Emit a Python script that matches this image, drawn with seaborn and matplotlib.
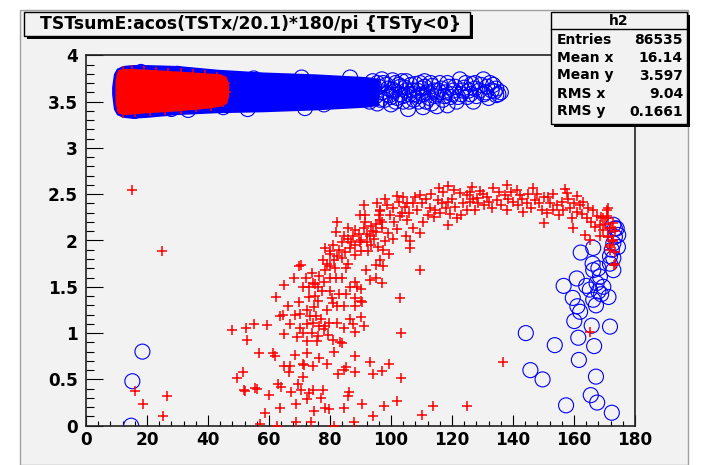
import matplotlib
matplotlib.use("Agg")
import matplotlib.pyplot as plt
from matplotlib.patches import Rectangle
from matplotlib.lines import Line2D
from matplotlib.ticker import MultipleLocator
import seaborn as sns

W, H = 702, 465

title = "TSTsumE:acos(TSTx/20.1)*180/pi {TSTy<0}"
stats_name = "h2"
stats_labels = ["Entries", "Mean x", "Mean y", "RMS x", "RMS y"]
stats_values = ["86535", "16.14", "3.597", "9.04", "0.1661"]

x_ticks = [0, 20, 40, 60, 80, 100, 120, 140, 160, 180]
x_tick_labels = ["0", "20", "40", "60", "80", "100", "120", "140", "160", "180"]
y_ticks = [0, 0.5, 1, 1.5, 2, 2.5, 3, 3.5, 4]
y_tick_labels = ["0", "0.5", "1", "1.5", "2", "2.5", "3", "3.5", "4"]

# saturated part of the blue band (outer envelope)
band_blue_x = [8.4, 9, 10, 12, 15, 20, 30, 43, 58, 75, 92, 96]
band_blue_lo = [3.58, 3.42, 3.36, 3.33, 3.32, 3.33, 3.36, 3.38, 3.39, 3.41, 3.44, 3.46]
band_blue_hi = [3.66, 3.80, 3.86, 3.89, 3.90, 3.90, 3.89, 3.85, 3.82, 3.80, 3.77, 3.75]

# saturated part of the red band
band_red_x = [9.5, 10, 11, 13, 20, 30, 40, 44, 46, 46.8]
band_red_lo = [3.50, 3.40, 3.37, 3.36, 3.38, 3.40, 3.43, 3.45, 3.48, 3.56]
band_red_hi = [3.72, 3.82, 3.85, 3.86, 3.85, 3.83, 3.81, 3.80, 3.77, 3.68]

# individual blue circles (band edge + sparse tail + low region)
blue_points = [
    (16, 3.40), (28, 3.42), (33.5, 3.41), (45, 3.44), (53, 3.42), (71.8, 3.43), (78, 3.47),
    (18, 3.82), (30, 3.80), (55, 3.75), (70.7, 3.76), (86.6, 3.76),
    (93, 3.50), (93.5, 3.62), (94, 3.72), (95, 3.56), (95.5, 3.48), (96, 3.66), (97, 3.60),
    (97.5, 3.70), (98, 3.52), (99, 3.64), (99.5, 3.57), (100, 3.47), (100.5, 3.73), (101, 3.61),
    (102, 3.54), (102.5, 3.68), (103, 3.58), (104, 3.50), (104.5, 3.65), (105, 3.72), (105.6, 3.42),
    (106, 3.58), (107, 3.62), (107.5, 3.52), (108, 3.69), (109, 3.56), (110, 3.64), (111, 3.72),
    (111.5, 3.50), (112, 3.60), (113.3, 3.48), (113.5, 3.67), (114.5, 3.56), (115.5, 3.62),
    (116, 3.70), (117, 3.52), (118, 3.60), (119, 3.66), (119.5, 3.55), (120.5, 3.62), (121.5, 3.50),
    (122.6, 3.74), (123, 3.58), (124, 3.65), (125, 3.55), (125.5, 3.62), (126.5, 3.69), (127.6, 3.70),
    (128, 3.56), (129, 3.62), (130.3, 3.74), (130.5, 3.58), (131.5, 3.66), (132, 3.54), (133, 3.62),
    (134, 3.61), (134.5, 3.57), (135.2, 3.58), (133.5, 3.68), (127, 3.50), (118.5, 3.46),
    (110.5, 3.44), (115, 3.45),
    (93.5, 3.55), (94.5, 3.66), (95.5, 3.70), (96.5, 3.52), (97, 3.74), (98.5, 3.58), (98.5, 3.68),
    (100, 3.55), (100.5, 3.63), (101.5, 3.70), (101.5, 3.50), (103, 3.66), (103.5, 3.72),
    (104, 3.56), (105, 3.62), (106, 3.50), (106.5, 3.68), (107.5, 3.58), (108.5, 3.62),
    (109, 3.50), (109.5, 3.70), (110.5, 3.58), (111, 3.66), (112.5, 3.54), (113, 3.70),
    (114, 3.62), (115, 3.58), (116.5, 3.64), (117.5, 3.56), (118.5, 3.70), (120, 3.58),
    (121, 3.66), (122, 3.55), (123.5, 3.62), (124.5, 3.70), (126, 3.58), (127.5, 3.64),
    (129.5, 3.68), (131, 3.60), (132.5, 3.70), (134.5, 3.64), (136, 3.60),
    (18.5, 0.80), (15.2, 0.48), (14.8, 0.0),
    (144.2, 1.00), (145.7, 0.60), (149.7, 0.50), (153.7, 0.87), (156.6, 1.51), (157.4, 0.22),
    (160.1, 1.13), (161.4, 0.95), (161.6, 0.71), (159.6, 1.38), (160.9, 1.59), (162.0, 1.23),
    (162.2, 1.87), (166.3, 1.92), (165.8, 1.08), (166.6, 0.86), (167.2, 0.53), (165.5, 0.33),
    (167.6, 0.25), (172.4, 0.14), (171.8, 1.07), (164.0, 1.51), (166.1, 1.75), (168.0, 1.70),
    (166.3, 1.68), (167.4, 1.54), (166.3, 1.36), (168.0, 1.45), (169.6, 1.50), (171.3, 1.39),
    (168.9, 1.42), (165.2, 1.47), (168.5, 1.61), (167.2, 1.30), (172.9, 1.68), (172.9, 1.81),
    (172.4, 1.90), (172.9, 1.97), (173.4, 2.04), (174.0, 2.13), (172.9, 2.17), (174.5, 2.06),
    (171.8, 1.83), (171.8, 1.75), (161.1, 1.29), (173.4, 2.13), (174.4, 1.93),
]

# individual red crosses (band edge + arc + outliers)
red_points = [
    (12, 3.83), (15, 3.84), (19, 3.83), (23, 3.82), (27, 3.81), (31, 3.81), (35, 3.80),
    (39, 3.79), (43, 3.77), (12, 3.38), (16, 3.39), (21, 3.40), (26, 3.41), (31, 3.42),
    (36, 3.44), (41, 3.45), (45, 3.50), (46, 3.60), (45.5, 3.70),
    (15.0, 2.55), (25.0, 1.89), (16.2, 0.38), (18.8, 0.23), (26.5, 0.32), (25.3, 0.11),
    (47.8, 1.03), (52.4, 1.06), (52.7, 0.93), (55.2, 1.10), (59.3, 1.09), (51.4, 0.58),
    (49.5, 0.51), (51.9, 0.39), (52.2, 0.38), (56.6, 0.79), (55.5, 0.41), (56.2, 0.40),
    (60.0, 0.33), (58.6, 0.14), (56.9, 0.02), (62.6, 0.0), (61.2, 0.78), (62.0, 0.75),
    (63.1, 0.45), (64.0, 0.42), (63.5, 0.19), (65.0, 0.99), (65.0, 0.64), (66.9, 0.64),
    (67.1, 0.36), (68.9, 0.23), (70.4, 0.39), (71.0, 0.53), (72.3, 0.29), (74.5, 0.39),
    (74.8, 0.16), (73.7, 0.04), (68.8, 0.04), (74.5, 0.64), (76.5, 0.73), (75.9, 0.91),
    (77.6, 0.39), (78.2, 0.19), (79.6, 0.18), (81.3, 0.0), (78.9, 0.67), (81.2, 0.80),
    (83.2, 0.90), (84.6, 0.60), (85.2, 0.63), (84.5, 0.19), (85.8, 0.32), (86.2, 0.36),
    (87.9, 0.04), (88.2, 0.58), (88.2, 0.75), (90.5, 0.23), (93.1, 0.69), (94.0, 0.56),
    (94.0, 0.10), (69.2, 0.96), (72.3, 0.91), (68.5, 0.76), (71.2, 0.67), (72.3, 0.78),
    (80.9, 0.93), (83.8, 0.89), (84.5, 1.05), (86.7, 1.15), (70.2, 1.21), (71.5, 0.66),
    (66.5, 0.58), (73.0, 0.35), (77.0, 0.30), (82.5, 0.56), (69.5, 0.45),
    (62.2, 1.39), (65.0, 1.52), (63.6, 1.19), (64.5, 1.20), (66.1, 1.29), (68.1, 1.59),
    (69.7, 1.72), (70.5, 1.74), (69.7, 1.34), (72.3, 1.25), (73.1, 1.39), (74.5, 1.54),
    (76.0, 1.50), (73.0, 1.50), (71.2, 1.50), (75.0, 1.53), (78.2, 1.68), (77.8, 1.79),
    (80.0, 1.59), (80.0, 1.45), (81.2, 1.79), (82.2, 1.83), (83.9, 1.81), (85.3, 1.70),
    (85.3, 1.42), (84.5, 1.29), (82.3, 1.29), (81.0, 1.32), (82.2, 1.11), (79.6, 1.11),
    (78.0, 1.04), (76.5, 1.08), (74.5, 1.11), (73.3, 1.19), (75.5, 1.19), (77.0, 1.15),
    (78.5, 1.08), (79.0, 1.25), (76.0, 1.35), (75.0, 1.40), (77.5, 1.45), (80.5, 1.38),
    (83.0, 1.42), (84.0, 1.60), (79.0, 1.75), (81.5, 1.70), (82.0, 1.60), (86.0, 1.75),
    (88.2, 1.29), (88.2, 1.38), (90.3, 1.35), (90.3, 1.17), (91.0, 1.08), (88.2, 1.01),
    (86.7, 1.50), (88.2, 1.55), (90.3, 1.48), (93.1, 1.57), (95.2, 1.60), (95.0, 1.74),
    (91.9, 1.68), (87.5, 1.10), (89.0, 1.50), (90.5, 1.34), (67.0, 1.10), (68.5, 1.20),
    (71.0, 1.00), (74.0, 1.00), (76.0, 0.97), (79.5, 0.98), (70.0, 1.05), (72.5, 1.10),
    (74.8, 1.28), (72.0, 1.60), (74.0, 1.65), (76.3, 1.62), (78.0, 1.55), (80.0, 1.72),
    (78.2, 1.92), (80.0, 1.89), (81.0, 1.95), (80.0, 1.85), (82.4, 2.20), (82.0, 2.09),
    (88.2, 1.84), (86.7, 1.92), (88.2, 1.95), (89.9, 1.98), (90.3, 1.89), (92.5, 1.89),
    (93.5, 1.95), (94.5, 2.02), (92.0, 2.07), (91.0, 2.13), (89.4, 2.07), (88.2, 2.11),
    (89.9, 2.27), (91.4, 2.27), (91.0, 2.38), (93.4, 2.16), (95.0, 2.18), (96.0, 2.27),
    (96.5, 2.32), (95.0, 2.09), (95.8, 1.93), (86.0, 2.13), (86.0, 2.02), (84.0, 1.98),
    (85.0, 1.88), (83.0, 1.90), (87.0, 1.98), (90.0, 2.00), (92.0, 1.98), (93.0, 2.05),
    (94.0, 2.10), (91.5, 2.20), (97.0, 2.20), (87.5, 2.05), (84.5, 2.05),
    (115.8, 2.57), (118.8, 2.59), (126.5, 2.58), (129.2, 2.53), (133.5, 2.57), (137.9, 2.60),
    (141.2, 2.55), (146.5, 2.57), (150.0, 2.47), (157.0, 2.56), (160.9, 2.48), (101.9, 2.48),
    (104.0, 2.47), (107.9, 2.47), (109.5, 2.49), (107.3, 2.40), (105.2, 2.40), (98.6, 2.38),
    (96.4, 2.33), (99.7, 2.28), (103.0, 2.26), (105.2, 2.22), (107.3, 2.13), (109.5, 2.08),
    (106.2, 1.99), (106.2, 1.92), (100.8, 2.02), (98.0, 1.99), (97.0, 2.13), (96.4, 2.22),
    (110.6, 2.20), (112.8, 2.35), (114.4, 2.33), (116.6, 2.40), (118.8, 2.42), (119.3, 2.29),
    (118.8, 2.17), (121.5, 2.24), (123.1, 2.28), (122.6, 2.51), (124.8, 2.49), (125.9, 2.42),
    (127.5, 2.33), (128.1, 2.46), (131.4, 2.47), (133.0, 2.35), (134.7, 2.44), (137.4, 2.49),
    (137.9, 2.33), (140.1, 2.42), (142.3, 2.49), (143.4, 2.31), (144.5, 2.40), (147.3, 2.44),
    (149.4, 2.33), (150.0, 2.19), (151.6, 2.47), (152.1, 2.40), (153.2, 2.33), (156.0, 2.42),
    (157.6, 2.51), (158.7, 2.35), (159.2, 2.24), (159.8, 2.13), (162.0, 2.38), (162.5, 2.29),
    (164.1, 2.24), (163.6, 2.06), (166.3, 2.33), (167.4, 2.26), (168.5, 2.17), (165.2, 2.01),
    (170.7, 2.33), (171.3, 2.24), (172.4, 2.13), (172.9, 2.01), (171.8, 1.90), (173.4, 1.75),
    (169.6, 2.11), (168.5, 2.05), (171.3, 2.05), (171.8, 1.95),
    (100.5, 2.35), (102.5, 2.42), (103.5, 2.30), (104.5, 2.36), (106.0, 2.30), (108.5, 2.33),
    (110.0, 2.40), (111.5, 2.45), (113.0, 2.50), (112.0, 2.28), (114.0, 2.25), (115.5, 2.44),
    (117.0, 2.52), (120.0, 2.45), (120.5, 2.55), (121.0, 2.36), (123.5, 2.40), (125.0, 2.33),
    (126.0, 2.52), (127.0, 2.45), (128.5, 2.40), (130.0, 2.50), (130.5, 2.38), (132.0, 2.42),
    (135.5, 2.52), (136.0, 2.38), (138.5, 2.45), (139.5, 2.52), (141.5, 2.38), (143.0, 2.45),
    (145.0, 2.50), (146.0, 2.35), (148.0, 2.50), (148.5, 2.40), (151.0, 2.30), (153.0, 2.50),
    (154.5, 2.38), (155.0, 2.28), (156.5, 2.33), (158.0, 2.45), (160.0, 2.40), (161.0, 2.31),
    (163.0, 2.42), (164.5, 2.35), (165.5, 2.20), (167.0, 2.15), (169.0, 2.25), (170.0, 2.18),
    (105.0, 2.05), (102.0, 2.12), (99.0, 2.08), (101.0, 2.20), (97.5, 1.90), (99.5, 1.85),
    (116.0, 2.30), (118.0, 2.35), (98.0, 2.45), (95.5, 2.40),
    (171.3, 2.35), (169.6, 2.24), (172.9, 2.19), (171.8, 2.13), (173.4, 2.10), (171.3, 2.04),
    (172.9, 1.99), (171.8, 1.93), (173.4, 1.88), (173.1, 1.74), (170.7, 2.26),
    (109.5, 1.68), (103.0, 1.38), (103.2, 1.00), (99.4, 0.67), (97.0, 0.59), (103.2, 0.52),
    (97.7, 0.21), (102.1, 0.27), (110.1, 0.12), (113.9, 0.21), (125.0, 0.21), (136.8, 0.69),
    (165.2, 1.01), (97.5, 1.72), (97.0, 1.54), (96.4, 1.79),
]

blue_x, blue_y = zip(*blue_points)
red_x, red_y = zip(*red_points)

bg = "#f2f2f2"
plt.rcParams["font.family"] = ["DejaVu Sans"]
plt.rcParams["font.weight"] = "bold"

fig = plt.figure(figsize=(W / 100, H / 100), dpi=100)
fig.patch.set_facecolor("white")


def px_rect(x0, y0, x1, y1, **kw):
    return Rectangle((x0 / W, 1 - y1 / H), (x1 - x0) / W, (y1 - y0) / H,
                     transform=fig.transFigure, **kw)


# canvas
fig.patches.append(px_rect(20, 10, 688, 465, facecolor=bg, edgecolor="#a0a0a0",
                           lw=1, zorder=-10))

ax = fig.add_axes([86 / W, 1 - 425.7 / H, (635 - 86) / W, (425.7 - 55.3) / H])
ax.set_facecolor(bg)

ax.fill_between(band_blue_x, band_blue_lo, band_blue_hi, color="#0000ff", lw=0, zorder=1)
sns.scatterplot(x=list(blue_x), y=list(blue_y), ax=ax, marker="o", s=117,
                facecolor="none", edgecolor="#0000ff", linewidth=0.8, zorder=2)
ax.fill_between(band_red_x, band_red_lo, band_red_hi, color="#ff0000", lw=0, zorder=3)
sns.scatterplot(x=list(red_x), y=list(red_y), ax=ax, marker="+", s=44,
                color="#ff0000", linewidth=1.1, zorder=4)

ax.set_xlim(0, 180)
ax.set_ylim(0, 4)
ax.set_xticks(x_ticks)
ax.set_xticklabels(x_tick_labels)
ax.set_yticks(y_ticks)
ax.set_yticklabels(y_tick_labels)
ax.xaxis.set_minor_locator(MultipleLocator(4))
ax.yaxis.set_minor_locator(MultipleLocator(0.1))
ax.set_xlabel("")
ax.set_ylabel("")
ax.tick_params(axis="x", which="major", direction="in", length=8, width=0.8,
               labelsize=12.2, pad=4, colors="black")
ax.tick_params(axis="x", which="minor", direction="in", length=3.8, width=0.8)
ax.tick_params(axis="y", which="major", direction="in", length=12, width=0.8,
               labelsize=12.2, pad=6, colors="black")
ax.tick_params(axis="y", which="minor", direction="in", length=6, width=0.8)
for sp in ax.spines.values():
    sp.set_color("#222222")
    sp.set_linewidth(1.2)

# title box
fig.patches.append(px_rect(27, 15, 473, 39, facecolor="black", edgecolor="none", zorder=5))
fig.patches.append(px_rect(24, 12, 470, 36, facecolor=bg, edgecolor="black", lw=1, zorder=6))
fig.text(251 / W, 1 - 24 / H, title, ha="center", va="center", fontsize=12.4,
         fontweight="bold", zorder=7)

# stats box
fig.patches.append(px_rect(554, 15, 690, 127, facecolor="black", edgecolor="none", zorder=5))
fig.patches.append(px_rect(551, 12, 687, 124, facecolor=bg, edgecolor="black", lw=1, zorder=6))
fig.add_artist(Line2D([551 / W, 687 / W], [1 - 29.5 / H, 1 - 29.5 / H],
                      transform=fig.transFigure, color="black", lw=1, zorder=7))
fig.text(619 / W, 1 - 21 / H, stats_name, ha="center", va="center", fontsize=10, zorder=7)
for i, (lab, val) in enumerate(zip(stats_labels, stats_values)):
    yy = 1 - (39.5 + 18 * i) / H
    fig.text(557 / W, yy, lab, ha="left", va="center", fontsize=10, zorder=7)
    fig.text(683 / W, yy, val, ha="right", va="center", fontsize=10, zorder=7)

fig.savefig("out.png", dpi=100)
